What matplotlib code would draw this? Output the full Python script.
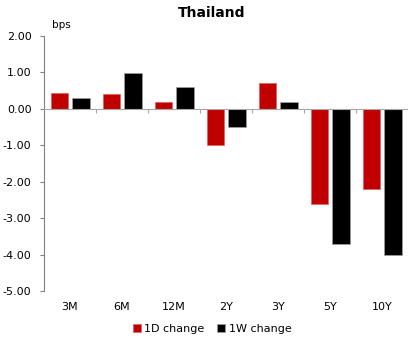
import matplotlib.pyplot as plt
import matplotlib.transforms as mtransforms
import numpy as np

tenors = ['3M', '6M', '12M', '2Y', '3Y', '5Y', '10Y']
chg_1d = [0.44, 0.41, 0.19, -1.00, 0.70, -2.60, -2.20]
chg_1w = [0.31, 0.98, 0.59, -0.50, 0.18, -3.72, -4.00]

x = np.arange(len(tenors))
w = 0.33

fig = plt.figure(figsize=(4.08, 3.38), dpi=100)
ax = fig.add_axes([44 / 408, 1 - 291 / 338, 364 / 408, (291 - 36) / 338])

ax.bar(x - 0.21, chg_1d, w, color='#c00000', edgecolor='#e06060', linewidth=0.5,
       label='1D change')
ax.bar(x + 0.21, chg_1w, w, color='#000000', edgecolor='#a0a0a0', linewidth=0.5,
       label='1W change')

ax.set_xlim(-0.5, len(tenors) - 0.5)
ax.set_ylim(-5, 2)
ax.set_yticks(np.arange(-5, 2.01, 1))
ax.set_yticklabels([f'{v:.2f}' for v in np.arange(-5, 2.01, 1)])

# x axis sits on the zero line, ticks mark the category boundaries
for s in ['top', 'right']:
    ax.spines[s].set_visible(False)
ax.spines['bottom'].set_position(('data', 0))
ax.spines['bottom'].set_color('#a6a6a6')
ax.spines['left'].set_color('#808080')
ax.set_xticks(np.arange(0.5, len(tenors) - 0.5, 1))
ax.set_xticklabels([])
ax.tick_params(axis='x', length=3, color='#a6a6a6', direction='out')
ax.tick_params(axis='y', length=3, color='#808080', labelsize=8, pad=6)

trans = mtransforms.blended_transform_factory(ax.transData, ax.transAxes)
for i, t in enumerate(tenors):
    ax.text(i, -0.062, t, transform=trans, ha='center', va='center', fontsize=8)

fig.text(212 / 408, 1 - 13 / 338, 'Thailand', ha='center', va='center',
         fontsize=10, fontweight='bold')
fig.text(52 / 408, 1 - 25 / 338, 'bps', ha='left', va='center', fontsize=7.5)

fig.legend(loc='center', bbox_to_anchor=(212 / 408, 1 - 329 / 338), ncol=2,
           frameon=False, fontsize=8, handlelength=0.7, handleheight=0.7,
           handletextpad=0.3, columnspacing=1.2)

fig.savefig('out.png', dpi=100)
